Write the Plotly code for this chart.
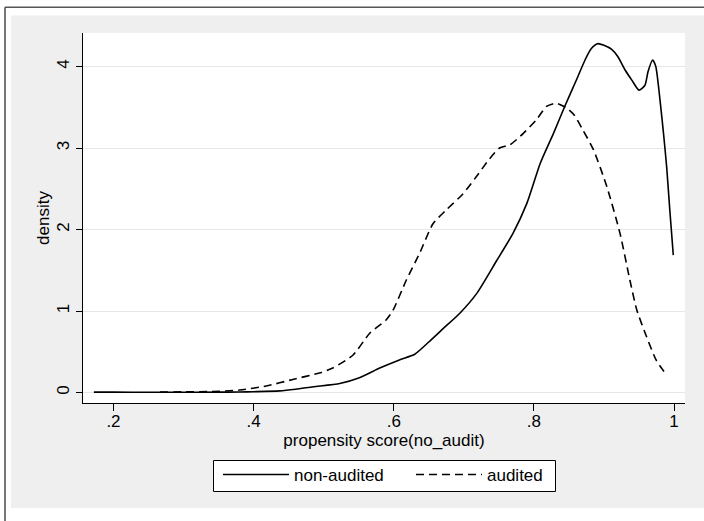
import plotly.graph_objects as go

# ---- data ----
non_audited_x = [0.172, 0.20, 0.25, 0.30, 0.35, 0.38, 0.40, 0.437, 0.46, 0.485, 0.523, 0.551,
                 0.58, 0.608, 0.63, 0.65, 0.67, 0.694, 0.718, 0.747, 0.77, 0.79, 0.809, 0.828,
                 0.844, 0.861, 0.873, 0.882, 0.891, 0.90, 0.911, 0.92, 0.93, 0.94, 0.95, 0.9585,
                 0.963, 0.9695, 0.974, 0.98, 0.985, 0.9895, 0.994, 0.999]
non_audited_y = [0.005, 0.004, 0.003, 0.003, 0.004, 0.006, 0.01, 0.02, 0.04, 0.07, 0.11, 0.18,
                 0.30, 0.40, 0.47, 0.62, 0.78, 0.97, 1.21, 1.62, 1.95, 2.32, 2.81, 3.18,
                 3.51, 3.84, 4.08, 4.22, 4.28, 4.26, 4.21, 4.12, 3.96, 3.83, 3.71, 3.77,
                 3.94, 4.08, 4.00, 3.59, 3.18, 2.77, 2.24, 1.685]

audited_x = [0.2665, 0.30, 0.34, 0.38, 0.418, 0.456, 0.494, 0.513, 0.542, 0.566, 0.589, 0.599,
             0.618, 0.637, 0.656, 0.675, 0.699, 0.718, 0.737, 0.751, 0.766, 0.785, 0.804, 0.818,
             0.832, 0.847, 0.858, 0.870, 0.885, 0.904, 0.923, 0.937, 0.947, 0.961, 0.975, 0.990]
audited_y = [0.005, 0.008, 0.012, 0.03, 0.08, 0.16, 0.24, 0.30, 0.46, 0.73, 0.89, 1.01,
             1.38, 1.71, 2.07, 2.24, 2.44, 2.65, 2.87, 3.00, 3.04, 3.18, 3.35, 3.51,
             3.55, 3.49, 3.40, 3.22, 2.98, 2.53, 1.95, 1.38, 1.01, 0.68, 0.39, 0.21]

x_tickvals = [0.2, 0.4, 0.6, 0.8, 1.0]
x_ticktext = [".2", ".4", ".6", ".8", "1"]
y_tickvals = [0, 1, 2, 3, 4]
y_ticktext = ["0", "1", "2", "3", "4"]

FONT = "Liberation Sans, Arial, sans-serif"

fig = go.Figure()
fig.add_trace(go.Scatter(x=non_audited_x, y=non_audited_y, mode="lines", name="non-audited",
                         legend="legend",
                         line=dict(color="#000000", width=1.6, shape="spline", smoothing=0.6)))
fig.add_trace(go.Scatter(x=audited_x, y=audited_y, mode="lines", name="audited",
                         legend="legend2",
                         line=dict(color="#000000", width=1.6, dash="8px,5px", shape="spline", smoothing=0.6)))

# geometry helpers (plot area 83..685 x 33..403 px)
L, R, T, B = 83, 685, 33, 403
W, H = R - L, B - T
px = lambda v: (v - L) / W
py = lambda v: (B - v) / H

shapes = [
    # white strips outside the grey graph region
    dict(type="rect", xref="paper", yref="paper", x0=px(-10), x1=px(720), y0=py(15.5), y1=py(-10),
         fillcolor="white", line_width=0, layer="below"),
    dict(type="rect", xref="paper", yref="paper", x0=px(-10), x1=px(11), y0=py(540), y1=py(-10),
         fillcolor="white", line_width=0, layer="below"),
    dict(type="rect", xref="paper", yref="paper", x0=px(-10), x1=px(720), y0=py(540), y1=py(508),
         fillcolor="white", line_width=0, layer="below"),
    # outer frame lines
    dict(type="line", xref="paper", yref="paper", x0=px(5), x1=px(720), y0=py(7.3), y1=py(7.3),
         line=dict(color="#555555", width=1.6)),
    dict(type="line", xref="paper", yref="paper", x0=px(5), x1=px(5), y0=py(7.3), y1=py(540),
         line=dict(color="#555555", width=1.6)),
    # legend frame
    dict(type="rect", xref="paper", yref="paper", x0=px(213.5), x1=px(555.5), y0=py(491.5), y1=py(460.5),
         fillcolor="white", line=dict(color="black", width=1), layer="above"),
]

legend_common = dict(orientation="h", xanchor="left", yanchor="top",
                     bgcolor="rgba(0,0,0,0)", borderwidth=0,
                     font=dict(family=FONT, size=17), itemwidth=66)

fig.update_layout(
    width=704, height=521,
    margin=dict(l=L, r=704 - R, t=T, b=521 - B, autoexpand=False),
    paper_bgcolor="#efefef",
    plot_bgcolor="white",
    font=dict(family=FONT, size=17, color="black"),
    shapes=shapes,
    showlegend=True,
    legend=dict(x=px(218), y=py(457), **legend_common),
    legend2=dict(x=px(411), y=py(457), **legend_common),
    xaxis=dict(range=[0.2 - (113.5 - L) / 701, 1 + (R - 674) / 701],
               tickvals=x_tickvals, ticktext=x_ticktext,
               ticks="outside", ticklen=7, tickcolor="black", tickwidth=1,
               ticklabelstandoff=-4,
               showline=True, linecolor="black", linewidth=1, mirror=False,
               showgrid=False, zeroline=False,
               title=dict(text="propensity score(no_audit)", standoff=2,
                          font=dict(family=FONT, size=17))),
    yaxis=dict(range=[-(B - 392.5) / 81.5, (392.5 - T) / 81.5],
               tickvals=y_tickvals, ticktext=y_ticktext, tickangle=-90,
               ticks="outside", ticklen=6, tickcolor="black", tickwidth=1,
               showline=True, linecolor="black", linewidth=1, mirror=False,
               showgrid=True, gridcolor="#e6e6e6", gridwidth=1.2, zeroline=False,
               title=dict(text="density", standoff=0,
                          font=dict(family=FONT, size=17))),
)

fig.write_html("out.html", config={"displayModeBar": False},
               post_script="document.body.style.margin='0px';")
